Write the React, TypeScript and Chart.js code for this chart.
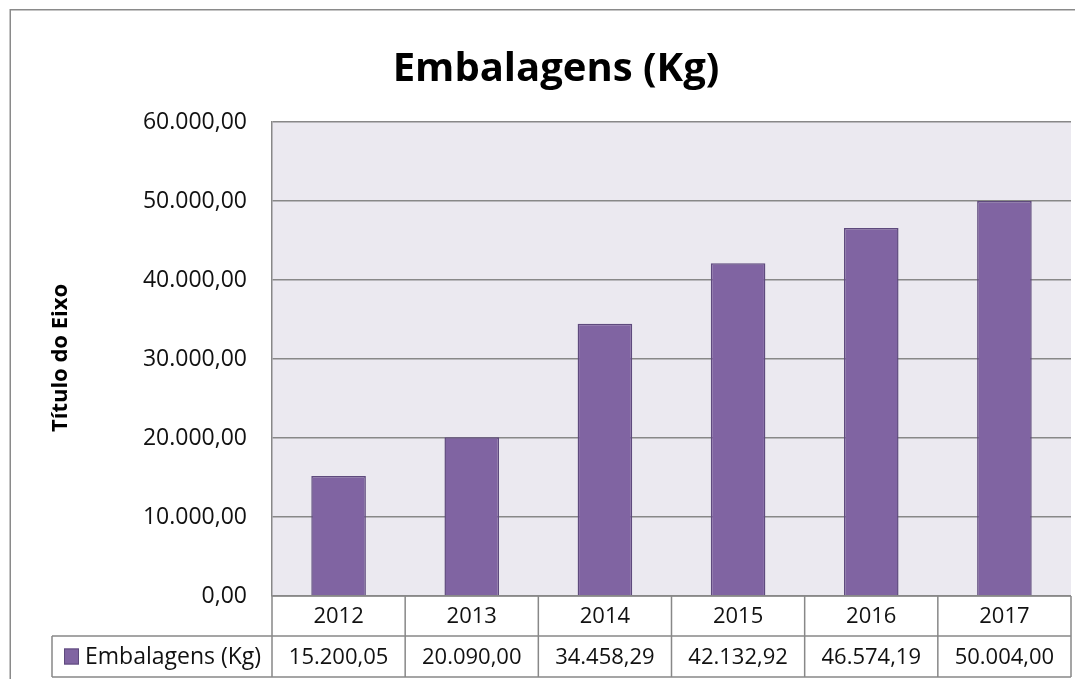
import React, { useEffect, useRef } from "react";
import { Chart, registerables } from "chart.js";

Chart.register(...registerables);

const categories = ["2012", "2013", "2014", "2015", "2016", "2017"];
const seriesName = "Embalagens (Kg)";
const values = [15200.05, 20090.0, 34458.29, 42132.92, 46574.19, 50004.0];
const yTicks = [0, 10000, 20000, 30000, 40000, 50000, 60000];
const chartTitle = "Embalagens (Kg)";
const yAxisTitle = "Título do Eixo";

const FONT = "'Open Sans', 'Noto Sans', sans-serif";
const BAR = "#8064A2";
const BAR_BORDER = "#5E4A7D";
const GRID = "#888888";
const PLOT_BG = "#EBE9F0";

function fmt(v: number): string {
  const neg = v < 0;
  const abs = Math.abs(v);
  const fixed = abs.toFixed(2);
  const [intPart, dec] = fixed.split(".");
  const withDots = intPart.replace(/\B(?=(\d{3})+(?!\d))/g, ".");
  return (neg ? "-" : "") + withDots + "," + dec;
}

const W = 1075;
const H = 671;

const decorPlugin = {
  id: "decor",
  beforeDraw(chart: any) {
    const { ctx, chartArea } = chart;
    ctx.save();
    ctx.fillStyle = "#ffffff";
    ctx.fillRect(0, 0, chart.width, chart.height);
    ctx.strokeStyle = "#8a8a8a";
    ctx.lineWidth = 1.5;
    ctx.beginPath();
    ctx.moveTo(2.25, chart.height + 5);
    ctx.lineTo(2.25, 1.75);
    ctx.lineTo(chart.width + 5, 1.75);
    ctx.stroke();
    ctx.fillStyle = PLOT_BG;
    ctx.fillRect(chartArea.left, chartArea.top, chartArea.right - chartArea.left, chartArea.bottom - chartArea.top);
    ctx.restore();
  },
  afterDraw(chart: any) {
    const { ctx, chartArea } = chart;
    const xs = chart.scales.x;
    const n = categories.length;
    const cw = (chartArea.right - chartArea.left) / n;
    const y0 = chartArea.bottom;
    const y1 = y0 + 40;
    const y2 = y0 + 81;
    const legendLeft = 44;
    ctx.save();
    // title
    ctx.fillStyle = "#000";
    ctx.font = `bold 40px ${FONT}`;
    ctx.textAlign = "center";
    ctx.textBaseline = "middle";
    ctx.fillText(chartTitle, 548, 62);
    // y axis title
    ctx.save();
    ctx.translate(53, 350);
    ctx.rotate(-Math.PI / 2);
    ctx.font = `bold 22px ${FONT}`;
    ctx.fillText(yAxisTitle, 0, 0);
    ctx.restore();

    // table lines
    ctx.strokeStyle = GRID;
    ctx.lineWidth = 1.5;
    ctx.beginPath();
    ctx.moveTo(chartArea.left, y0);
    ctx.lineTo(chartArea.right, y0);
    ctx.moveTo(legendLeft, y1);
    ctx.lineTo(chartArea.right, y1);
    ctx.moveTo(legendLeft, y2);
    ctx.lineTo(chartArea.right, y2);
    ctx.moveTo(legendLeft, y1);
    ctx.lineTo(legendLeft, y2);
    for (let i = 0; i <= n; i++) {
      const x = i < n ? xs.getPixelForValue(i) - cw / 2 : xs.getPixelForValue(n - 1) + cw / 2;
      ctx.moveTo(x, y0);
      ctx.lineTo(x, y2);
    }
    ctx.stroke();

    // table text
    ctx.fillStyle = "#111";
    ctx.font = `22px ${FONT}`;
    ctx.textAlign = "center";
    ctx.textBaseline = "middle";
    for (let i = 0; i < n; i++) {
      const cx = xs.getPixelForValue(i);
      ctx.fillText(categories[i], cx, (y0 + y1) / 2 + 1);
      ctx.fillText(fmt(values[i]), cx, (y1 + y2) / 2 + 1);
    }
    // legend key
    ctx.fillStyle = BAR;
    ctx.fillRect(56, (y1 + y2) / 2 - 8, 15, 16);
    ctx.strokeStyle = BAR_BORDER;
    ctx.lineWidth = 1;
    ctx.strokeRect(56.5, (y1 + y2) / 2 - 7.5, 14, 15);
    ctx.fillStyle = "#111";
    ctx.textAlign = "left";
    ctx.font = `23px ${FONT}`;
    ctx.fillText(seriesName, 77, (y1 + y2) / 2 + 1);
    ctx.restore();
  },
};

export default function App() {
  const ref = useRef<HTMLCanvasElement | null>(null);
  useEffect(() => {
    if (!ref.current) return;
    const chart = new Chart(ref.current, {
      type: "bar",
      data: {
        labels: categories,
        datasets: [
          {
            label: seriesName,
            data: values,
            backgroundColor: BAR,
            borderColor: BAR_BORDER,
            borderWidth: 1.5,
            barPercentage: 0.41,
            categoryPercentage: 1,
          },
        ],
      },
      options: {
        responsive: false,
        animation: false,
        layout: { padding: { left: 0, top: 114, right: 12, bottom: 83 } },
        plugins: {
          legend: { display: false },
          title: { display: false },
          tooltip: { enabled: false },
        },
        scales: {
          x: { display: false },
          y: {
            min: 0,
            max: 60000,
            afterFit: (s: any) => {
              s.width = 264;
            },
            afterBuildTicks: (s: any) => {
              s.ticks = yTicks.map((v) => ({ value: v }));
            },
            grid: { color: GRID, lineWidth: 1.5, drawTicks: false },
            border: { display: true, color: GRID, width: 1.5 },
            ticks: {
              padding: 25,
              color: "#111",
              font: { family: FONT, size: 23 },
              callback: (v: any) => fmt(Number(v)),
            },
          },
        },
      },
      plugins: [decorPlugin],
    });
    return () => chart.destroy();
  }, []);
  return <canvas ref={ref} width={W} height={H} style={{ display: "block" }} />;
}
